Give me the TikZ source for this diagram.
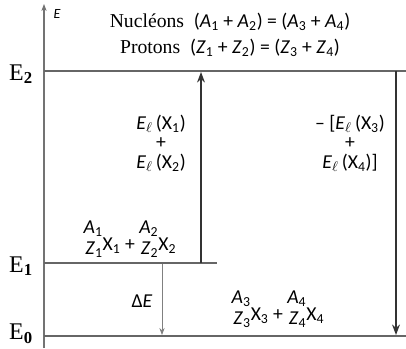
\documentclass[tikz,border=0pt]{standalone}
\usepackage{fontspec}
\setmainfont{Liberation Serif}
\setsansfont{Carlito}
\usetikzlibrary{arrows.meta,positioning}

\newcommand{\isub}[2]{\textit{#1}\textsubscript{#2}}
\newcommand{\nucl}[3]{\raisebox{-0.5ex}{\begin{tabular}[b]{@{}r@{}}\isub{#1}{#2}\\[0.2ex]\isub{#3}{#2}\end{tabular}}}
\newcommand{\El}{\textit{E}\textsubscript{$\ell$}}

\begin{document}
\begin{tikzpicture}[x=0.25mm, y=-0.25mm, >=Stealth]

  % styles
  \tikzset{
    axisline/.style={draw=black!55, line width=0.8pt},
    levelline/.style={draw=black!60, line width=0.9pt},
    bigarrow/.style={draw=black!80, line width=1pt, ->},
    smallarrow/.style={draw=black!50, line width=0.6pt, -{Stealth[length=5pt]}},
    levlabel/.style={font=\fontsize{17}{18}\selectfont, inner sep=0pt},
    toplabel/.style={font=\fontsize{14}{16}\selectfont, inner sep=0pt},
    sflabel/.style={font=\sffamily\fontsize{14}{14}\selectfont, align=center, inner sep=0pt},
  }

  \useasboundingbox (0,0) rectangle (406,348);

  % ============================================================
  % Energy axis
  % ============================================================
  \coordinate (axbot) at (44,348);
  \coordinate (axtop) at (44,4);
  \draw[axisline, -{Stealth[length=5pt]}] (axbot) -- (axtop);
  \node[sflabel, font=\sffamily\itshape\fontsize{10}{10}\selectfont] (elabel) at (57,14) {E};

  % ============================================================
  % Levels
  % ============================================================
  \coordinate (e2l) at (44,71);
  \coordinate (e2r) at (406,71);
  \coordinate (e1l) at (44,263);
  \coordinate (e1r) at (217,263);
  \coordinate (e0l) at (44,336);
  \coordinate (e0r) at (406,336);
  \draw[levelline] (e2l) -- (e2r);
  \draw[levelline] (e1l) -- (e1r);
  \draw[levelline] (e0l) -- (e0r);

  \node[levlabel] (lab2) at (21,74) {E\textsubscript{\textbf{2}}};
  \node[levlabel] (lab1) at (21,266) {E\textsubscript{\textbf{1}}};
  \node[levlabel] (lab0) at (21,334) {E\textsubscript{\textbf{0}}};

  % ============================================================
  % Conservation laws
  % ============================================================
  \node[toplabel] (nucleons) at (230,22)
    {Nucléons \ {\sffamily(\isub{A}{1} + \isub{A}{2}) = (\isub{A}{3} + \isub{A}{4})}};
  \node[toplabel] (protons) at (230,48)
    {Protons \ {\sffamily(\isub{Z}{1} + \isub{Z}{2}) = (\isub{Z}{3} + \isub{Z}{4})}};

  % ============================================================
  % Arrows
  % ============================================================
  \coordinate (upbot) at (201,263);
  \coordinate (uptop) at (201,72);
  \draw[bigarrow] (upbot) -- (uptop);

  \coordinate (dntop) at (396,71);
  \coordinate (dnbot) at (396,335);
  \draw[bigarrow] (dntop) -- (dnbot);

  \coordinate (destart) at (162,264);
  \coordinate (deend) at (162,335);
  \draw[smallarrow] (destart) -- (deend);

  % ============================================================
  % Binding energies and nuclei
  % ============================================================
  \node[sflabel] (bind12) at (161,143)
    {\El\,(X\textsubscript{1})\\+\\\El\,(X\textsubscript{2})};
  \node[sflabel] (bind34) at (350,143)
    {-- [\El\,(X\textsubscript{3})\\+\\\El\,(X\textsubscript{4})]};

  \node[sflabel] (nuc12) at (130,240)
    {\nucl{A}{1}{Z}X\textsubscript{1} + \nucl{A}{2}{Z}X\textsubscript{2}};
  \node[sflabel] (deltae) at (142,301) {Δ\textit{E}};
  \node[sflabel] (nuc34) at (278,310)
    {\nucl{A}{3}{Z}X\textsubscript{3} + \nucl{A}{4}{Z}X\textsubscript{4}};

\end{tikzpicture}
\end{document}
